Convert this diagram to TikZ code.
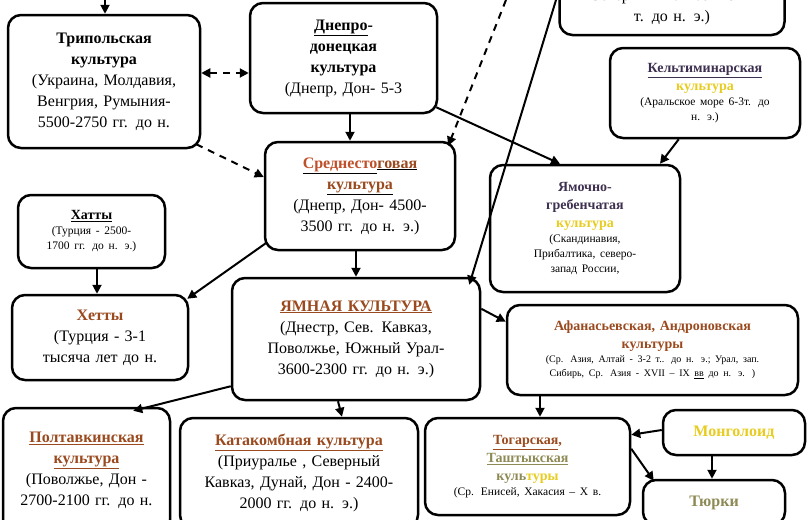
\documentclass[tikz,border=0pt]{standalone}
\usepackage{fontspec}
\setmainfont{Liberation Serif}
\usetikzlibrary{arrows.meta,calc}
\definecolor{brn}{HTML}{9A4A1E}
\definecolor{org}{HTML}{C0502A}
\definecolor{pur}{HTML}{3E3050}
\definecolor{yel}{HTML}{E8CC20}
\definecolor{olv}{HTML}{8E8A55}
\newcommand{\fbig}{\fontsize{16}{21}\selectfont}
\newcommand{\fmid}{\fontsize{14}{18}\selectfont}
\newcommand{\fsml}{\fontsize{11.5}{15}\selectfont}
\tikzset{box/.style={draw,line width=2.5pt,rounded corners=13pt,fill=white,align=center,inner sep=2pt,font=\fbig},
 arr/.style={line width=2pt,-{Triangle[length=9pt,width=9pt]}},
 darr/.style={arr,dashed,dash pattern=on 7pt off 6pt}}
\begin{document}
\begin{tikzpicture}[x=1pt,y=-1pt]
\useasboundingbox (0,0) rectangle (807,520);
\clip (0,0) rectangle (807,520);
\node[box,minimum width=192,minimum height=133,text width=185] (trip) at (104,81.5) {\textbf{Трипольская}\\\textbf{культура}\\(Украина, Молдавия,\\Венгрия, Румыния-\\5500-2750 гг. до н.};
\node[box,minimum width=187,minimum height=110,text width=180] (dn) at (343.5,58) {\textbf{\underline{Днепро}-}\\\textbf{донецкая}\\\textbf{культура}\\(Днепр, Дон- 5-3};
\node[box,minimum width=225,minimum height=80,text width=220] (sk) at (672,-5) {\strut\\Северный Кавказ – 5- 4\\т. до н. э.)};
\node[box,minimum width=190,minimum height=108,text width=185] (sr) at (360,196) {\textbf{\underline{\color{org}Среднесто}\underline{\color{brn}говая}}\\\textbf{\underline{\color{brn}культура}}\\(Днепр, Дон- 4500-\\3500 гг. до н. э.)};
\node[box,font=\fmid,minimum width=190,minimum height=90,text width=185] (kl) at (705,93) {\textbf{\color{pur}\underline{Кельтиминарская}}\\\textbf{\color{yel}культура}\par{\fsml(Аральское море 6-3т. до\\н. э.)\par}};
\node[box,font=\fmid,minimum width=190,minimum height=127,text width=185] (ym) at (585,228.5) {\textbf{\color{pur}Ямочно-}\\\textbf{\color{pur}гребенчатая}\\\textbf{\color{yel}культура}\par{\fsml(Скандинавия,\\Прибалтика, северо-\\запад России,\par}};
\node[box,font=\fmid,minimum width=147,minimum height=73,text width=140] (ht) at (91.5,231.5) {\textbf{\underline{Хатты}}\par{\fsml(Турция - 2500-\\1700 гг. до н. э.)\par}};
\node[box,minimum width=176,minimum height=85,text width=170] (he) at (100,337.5) {\textbf{\color{brn}Хетты}\\(Турция - 3-1\\тысяча лет до н.};
\node[box,minimum width=248,minimum height=122,text width=240] (ya) at (356,339) {\textbf{\color{brn}\underline{ЯМНАЯ КУЛЬТУРА}}\\(Днестр, Сев. Кавказ,\\Поволжье, Южный Урал-\\3600-2300 гг. до н. э.)};
\node[box,font=\fmid,minimum width=291,minimum height=90,text width=285] (af) at (652.5,350) {\textbf{\color{brn}Афанасьевская, Андроновская}\\\textbf{\color{brn}культуры}\par{\fontsize{10}{14}\selectfont(Ср. Азия, Алтай - 3-2 т.. до н. э.; Урал, зап.\\Сибирь, Ср. Азия - XVII – IX \underline{вв} до н. э. )\par}};
\node[box,minimum width=167,minimum height=125,text width=162] (po) at (86.5,470.5) {\textbf{\color{brn}\underline{Полтавкинская}}\\\textbf{\color{brn}\underline{культура}}\\(Поволжье, Дон -\\2700-2100 гг. до н.};
\node[box,minimum width=238,minimum height=110,text width=232] (ka) at (299,473) {\textbf{\color{brn}\underline{Катакомбная культура}}\\(Приуралье , Северный\\Кавказ, Дунай, Дон - 2400-\\2000 гг. до н. э.)};
\node[box,font=\fmid,minimum width=205,minimum height=97,text width=200] (to) at (527.5,466.5) {\textbf{\color{brn}\underline{Тогарская},}\\\textbf{\color{olv}\underline{Таштыкская}}\\\textbf{\color{olv}куль\color{yel}туры}\par{\fsml(Ср. Енисей, Хакасия – X в.\par}};
\node[box,minimum width=142,minimum height=45,text width=138] (mo) at (734,432.5) {\textbf{\color{yel}Монголоид}};
\node[box,minimum width=142,minimum height=45,text width=138] (tu) at (714,502.5) {\textbf{\color{olv}Тюрки}};
% arrows
\coordinate (t1) at (105,0);
\draw[arr] (t1) -- (105,0 |- trip.north);
\draw[darr,{Triangle[length=9pt,width=9pt]}-{Triangle[length=9pt,width=9pt]}] (trip.east |- 0,73) -- (dn.west |- 0,73);
\draw[arr] (350,0 |- dn.south) -- (350,0 |- sr.north);
\draw[darr] ($(trip.south east)+(-5,-5)$) -- (sr.west |- 0,177);
\coordinate (d1) at (506,0);
\draw[darr] (d1) -- ($(sr.north east)+(-8,5)$);
\coordinate (s1) at (556,0);
\draw[arr] (s1) -- ($(ya.north east)+(-12,8)$);
\draw[arr] ($(dn.south east)+(-2,-7)$) -- (560,0 |- ym.north);
\draw[arr] ($(kl.south west)+(70,0)$) -- (660,0 |- ym.north);
\draw[arr] (97,0 |- ht.south) -- (97,0 |- he.north);
\draw[arr] ($(sr.south west)+(2,-8)$) -- ($(he.north east)+(-2,5)$);
\draw[arr] (356,0 |- sr.south) -- (356,0 |- ya.north);
\draw[arr] ($(ya.north east)+(0,32)$) -- ($(af.north west)+(0,18)$);
\draw[arr] ($(ya.south west)+(0,-15)$) -- ($(po.north east)+(-38,4)$);
\draw[arr] (338,0 |- ya.south) -- (342,0 |- ka.north);
\draw[arr] (540,0 |- af.south) -- (540,0 |- to.north);
\draw[arr] (mo.west |- 0,430) -- ($(to.north east)+(0,18)$);
\draw[arr] (712,0 |- mo.south) -- (712,0 |- tu.north);
\draw[arr] ($(to.north east)+(0,32)$) -- ($(tu.north west)+(12,2)$);
\end{tikzpicture}
\end{document}
